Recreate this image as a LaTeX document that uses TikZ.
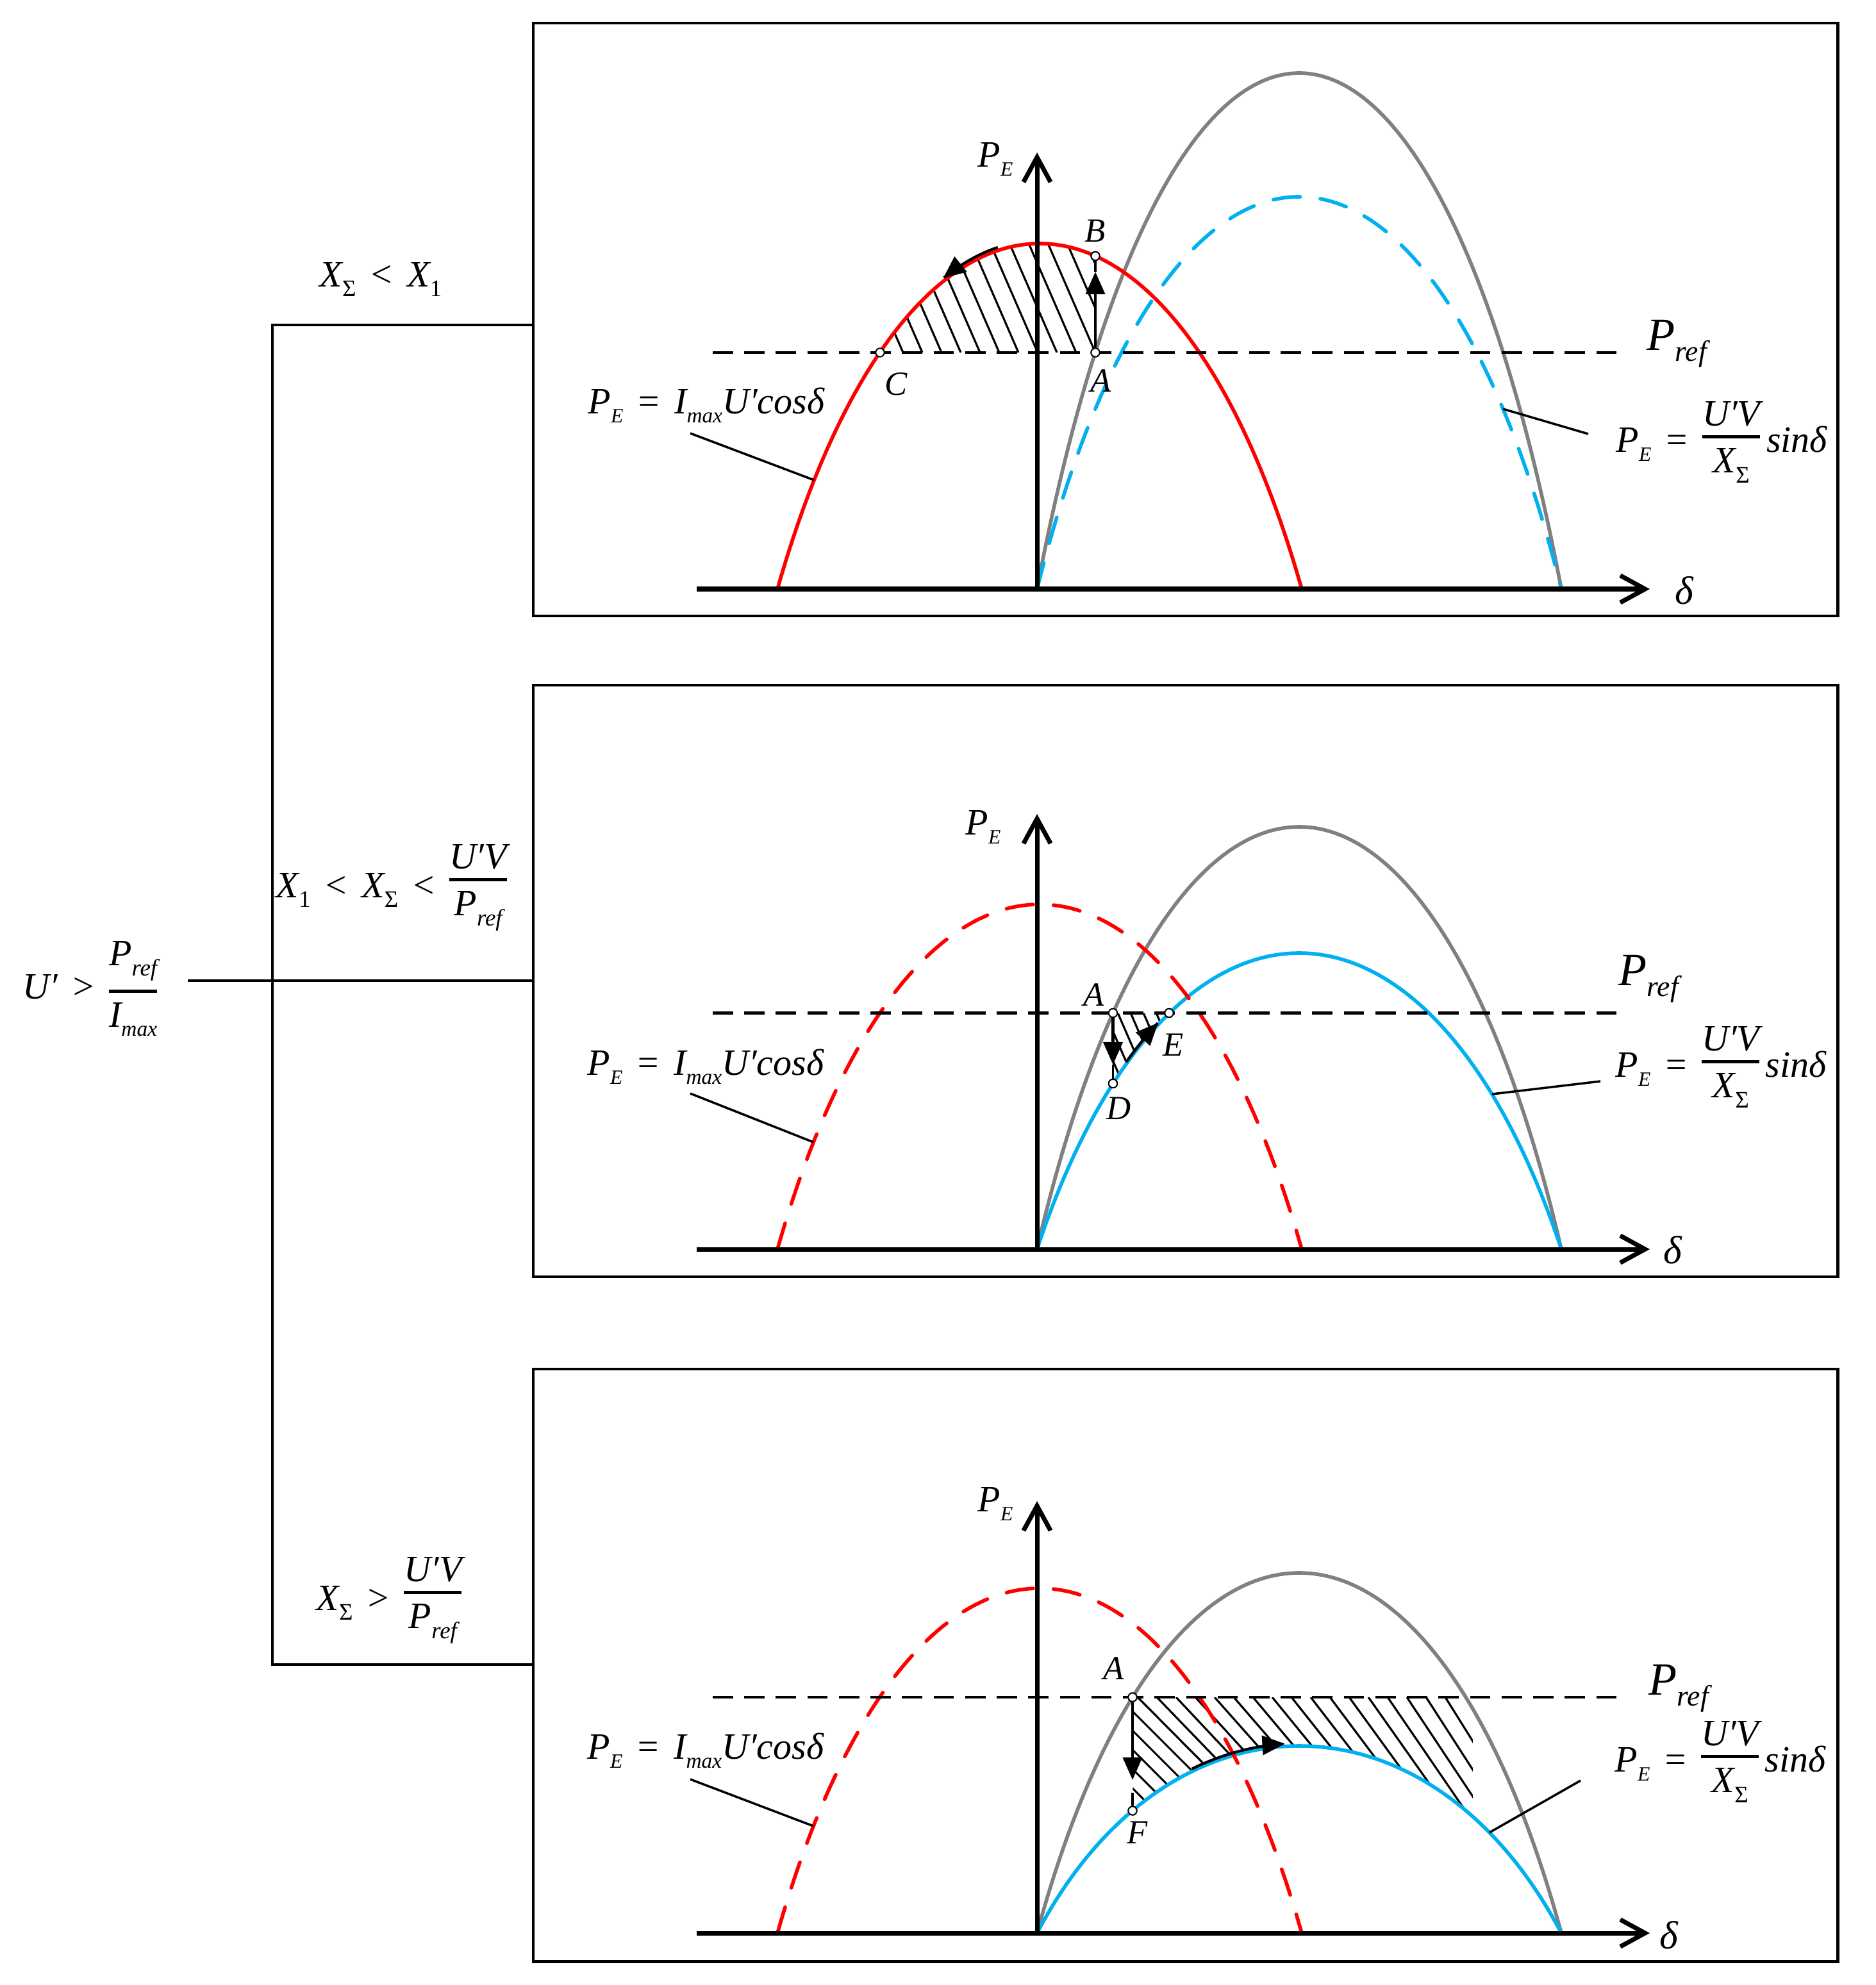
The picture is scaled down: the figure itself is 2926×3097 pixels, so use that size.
\documentclass[tikz,border=0pt]{standalone}
\usepackage{fontspec}
\setmainfont{Liberation Serif}
\usetikzlibrary{arrows.meta}
\definecolor{cred}{RGB}{255,0,0}
\definecolor{cblue}{RGB}{0,176,240}
\definecolor{cgray}{RGB}{128,128,128}
\newcommand\lo[3]{\raisebox{-#1}{\fontsize{#2}{#2}\selectfont #3}}
\newcommand\sE{\lo{4pt}{9}{E}}
\newcommand\smax{\lo{4pt}{9.5}{max}}
\newcommand\sref{\lo{4.5pt}{10.5}{ref}}
\newcommand\srefB{\lo{5pt}{13}{ref}}
\newcommand\sSig{\lo{4.5pt}{10.5}{\upshape Σ}}
\newcommand\sOne{\lo{4.5pt}{10.5}{\upshape 1}}
\newcommand\pr{′}
\newcommand\rel[1]{\hspace{0.35em}#1\hspace{0.35em}}
\newcommand\fr[2]{\ensuremath{\vcenter{\offinterlineskip\halign{\hfil##\hfil\cr\hbox{#1}\cr\noalign{\kern4pt\hrule height 1.4pt\kern4.5pt}\hbox{#2}\cr}}}}
% full hump: start x, base, height (cubic Bezier, control fraction 0.25)
\newcommand\hump[3]{(#1,#2) .. controls ({#1+204.5},{#2-4*#3/3}) and ({#1+613.5},{#2-4*#3/3}) .. ({#1+818},#2)}
% partial hump as parametric plot: start x, base, height, offset, s1, s2
\newcommand\bz[6]{plot[domain=#5:#6,samples=60] ({#1+818*(0.75*(1-\x)*(1-\x)*\x+2.25*(1-\x)*\x*\x+\x*\x*\x)},{#2-#4-4*#3*\x*(1-\x)})}
\tikzset{
  box/.style={line width=1.4pt},
  tree/.style={line width=1.4pt},
  axisline/.style={line width=2pt,-{Straight Barb[length=11pt,width=12pt]}},
  crv/.style={line width=1.6pt},
  dsh/.style={dash pattern=on 12pt off 9pt, line cap=round},
  prefl/.style={line width=1.3pt, dash pattern=on 9pt off 5pt},
  hatch/.style={line width=0.9pt},
  lead/.style={line width=1.0pt},
  arr/.style={line width=1.2pt,-{Triangle[length=10pt,width=8.5pt]}},
  vline/.style={line width=0.9pt},
  ptc/.style={circle, draw, fill=white, line width=0.55pt, inner sep=0pt, minimum size=3.8pt},
  lbl/.style={inner sep=0pt, font=\fontsize{15}{15}\selectfont\itshape},
  txt/.style={inner sep=0pt, font=\fontsize{16.5}{16.5}\selectfont\itshape},
  big/.style={inner sep=0pt, font=\fontsize{20.5}{20.5}\selectfont\itshape},
  dlt/.style={inner sep=0pt, font=\fontsize{17.5}{17.5}\selectfont\itshape},
}
\begin{document}
\begin{tikzpicture}[x=0.01cm,y=-0.01cm]
\useasboundingbox (0,0) rectangle (2926,3097);

% ---------- tree ----------
\node[txt,anchor=base west] (root) at (35,1558) {U\pr\rel{>}\fr{P\sref}{I\smax}};
\coordinate (r0) at (293,1530);
\coordinate (j1) at (425,507);
\coordinate (j3) at (425,2597);
\coordinate (b1) at (832,507);
\coordinate (b2) at (832,1530);
\coordinate (b3) at (832,2597);
\draw[tree] (r0) -- (b2);
\draw[tree] (b1) -- (j1) -- (j3) -- (b3);
\node[txt,anchor=base west] (c1) at (498,447) {X\sSig\rel{<}X\sOne};
\node[txt,anchor=base west] (c2) at (430,1400) {X\sOne\rel{<}X\sSig\rel{<}\fr{U\pr V}{P\sref}};
\node[txt,anchor=base west] (c3) at (493,2512) {X\sSig\rel{>}\fr{U\pr V}{P\sref}};

% ---------- boxes ----------
\draw[box] (832,36) rectangle (2867,961);
\draw[box] (832,1069) rectangle (2867,1992);
\draw[box] (832,2136) rectangle (2867,3060);

% ================= Panel 1 =================
\begin{scope}
\clip \bz{1213}{919}{539}{0}{0.2192}{0.595} -- (1709,550) -- cycle;
\foreach \k in {-3,...,14} \draw[hatch] ({1709-30*\k},550) -- ++(-110,-253);
\end{scope}
\draw[crv,cgray] \hump{1618}{919}{805};
\draw[crv,cblue,dsh] \hump{1618}{919}{612};
\draw[crv,cred] \hump{1213}{919}{539};
\coordinate (pl1a) at (1112,550); \coordinate (pl1b) at (2523,550);
\draw[prefl] (pl1a) -- (pl1b);
\coordinate (x1a) at (1087,919); \coordinate (x1b) at (2574,919);
\coordinate (y1a) at (1618,919); \coordinate (y1b) at (1618,238);
\draw[axisline] (x1a) -- (x1b);
\draw[axisline] (y1a) -- (y1b);
\node[txt,anchor=base west] (pe1) at (1525,260) {P\sE};
\node[dlt] (d1) at (2628,921) {δ};
\node[big,anchor=base west] (pr1) at (2569,546) {P\srefB};
\node[txt,anchor=base west] (fl1) at (917,645) {P\sE\rel{=}I\smax U\pr cosδ};
\node[txt,anchor=base west] (fr1) at (2521,705) {P\sE\rel{=}\fr{U\pr V}{X\sSig}\,sinδ};
\coordinate (ll1a) at (1077,676); \coordinate (ll1b) at (1270,749);
\coordinate (lr1a) at (2345,638); \coordinate (lr1b) at (2478,677);
\draw[lead] (ll1a) -- (ll1b);
\draw[lead] (lr1a) -- (lr1b);
\node[ptc] (A1) at (1709,550) {};
\node[ptc] (B1) at (1709,399.5) {};
\node[ptc] (C1) at (1373,550) {};
\coordinate (t1) at (1709,424);
\draw[vline] (t1) -- (B1);
\draw[arr] (A1) -- (t1);
\draw[arr] \bz{1213}{919}{539}{5}{0.429}{0.334};
\node[ptc] at (1709,550) {};
\node[ptc] at (1709,399.5) {};
\node[lbl] (lA1) at (1718,594) {A};
\node[lbl] (lB1) at (1709,360) {B};
\node[lbl] (lC1) at (1398,599) {C};

% ================= Panel 2 =================
\begin{scope}
\clip \bz{1618}{1949}{462}{0}{0.27505}{0.16805} -- (1736.5,1580.5) -- cycle;
\foreach \k in {-3,...,8} \draw[hatch] ({1736+20*\k},1700) -- ++(-70,-161);
\end{scope}
\draw[crv,cgray] \hump{1618}{1949}{659};
\draw[crv,cblue] \hump{1618}{1949}{462};
\draw[crv,cred,dsh] \hump{1213}{1949}{538};
\coordinate (pl2a) at (1112,1580.5); \coordinate (pl2b) at (2522,1580.5);
\draw[prefl] (pl2a) -- (pl2b);
\coordinate (x2a) at (1087,1949); \coordinate (x2b) at (2574,1949);
\coordinate (y2a) at (1618,1949); \coordinate (y2b) at (1618,1270);
\draw[axisline] (x2a) -- (x2b);
\draw[axisline] (y2a) -- (y2b);
\node[txt,anchor=base west] (pe2) at (1506,1302) {P\sE};
\node[dlt] (d2) at (2610,1950) {δ};
\node[big,anchor=base west] (pr2) at (2525,1537) {P\srefB};
\node[txt,anchor=base west] (fl2) at (916,1677) {P\sE\rel{=}I\smax U\pr cosδ};
\node[txt,anchor=base west] (fr2) at (2520,1680) {P\sE\rel{=}\fr{U\pr V}{X\sSig}\,sinδ};
\coordinate (ll2a) at (1077,1706); \coordinate (ll2b) at (1269,1782);
\coordinate (lr2a) at (2328,1707); \coordinate (lr2b) at (2497,1687);
\draw[lead] (ll2a) -- (ll2b);
\draw[lead] (lr2a) -- (lr2b);
\node[ptc] (A2) at (1736.5,1580.5) {};
\node[ptc] (D2) at (1736.5,1690.5) {};
\node[ptc] (E2) at (1824,1580.5) {};
\coordinate (t2) at (1736.5,1661);
\draw[vline] (t2) -- (D2);
\draw[arr] (A2) -- (t2);
\draw[arr] \bz{1618}{1949}{462}{3}{0.194}{0.2545};
\node[ptc] at (1736.5,1580.5) {};
\node[ptc] at (1736.5,1690.5) {};
\node[ptc] at (1824,1580.5) {};
\node[lbl] (lA2) at (1707,1552) {A};
\node[lbl] (lE2) at (1831,1630) {E};
\node[lbl] (lD2) at (1746,1729) {D};

% ================= Panel 3 =================
\begin{scope}
\clip \bz{1618}{3016}{292}{0}{0.8073}{0.2062} -- (1767,2648) -- (2298,2648) -- cycle;
\foreach \k in {-8,...,16}{
  \pgfmathsetmacro\xt{1775+30*\k}
  \pgfmathsetmacro\ang{45+13*max(0,(\xt-1767)/488)}
  \draw[hatch] (\xt,2648) -- ++(\ang:320);
}
\end{scope}
\draw[crv,cgray] \hump{1618}{3016}{562};
\draw[crv,cblue] \hump{1618}{3016}{292};
\draw[crv,cred,dsh] \hump{1213}{3016}{538};
\coordinate (pl3a) at (1112,2648); \coordinate (pl3b) at (2525,2648);
\draw[prefl] (pl3a) -- (pl3b);
\coordinate (x3a) at (1087,3016); \coordinate (x3b) at (2574,3016);
\coordinate (y3a) at (1618,3016); \coordinate (y3b) at (1618,2342);
\draw[axisline] (x3a) -- (x3b);
\draw[axisline] (y3a) -- (y3b);
\node[txt,anchor=base west] (pe3) at (1525,2358) {P\sE};
\node[dlt] (d3) at (2604,3019) {δ};
\node[big,anchor=base west] (pr3) at (2572,2644) {P\srefB};
\node[txt,anchor=base west] (fl3) at (916,2744) {P\sE\rel{=}I\smax U\pr cosδ};
\node[txt,anchor=base west] (fr3) at (2519,2764) {P\sE\rel{=}\fr{U\pr V}{X\sSig}\,sinδ};
\coordinate (ll3a) at (1077,2776); \coordinate (ll3b) at (1269,2849);
\coordinate (lr3a) at (2324,2859); \coordinate (lr3b) at (2466,2778);
\draw[lead] (ll3a) -- (ll3b);
\draw[lead] (lr3a) -- (lr3b);
\node[ptc] (A3) at (1767,2648) {};
\node[ptc] (F3) at (1767,2825) {};
\coordinate (t3) at (1767,2777);
\coordinate (s3) at (1767,2797);
\draw[arr] (A3) -- (t3);
\draw[vline] (s3) -- (F3);
\draw[arr] \bz{1618}{3016}{292}{4}{0.3155}{0.476};
\node[ptc] at (1767,2648) {};
\node[ptc] at (1767,2825) {};
\node[lbl] (lA3) at (1738,2603) {A};
\node[lbl] (lF3) at (1775,2859) {F};
\end{tikzpicture}
\end{document}
